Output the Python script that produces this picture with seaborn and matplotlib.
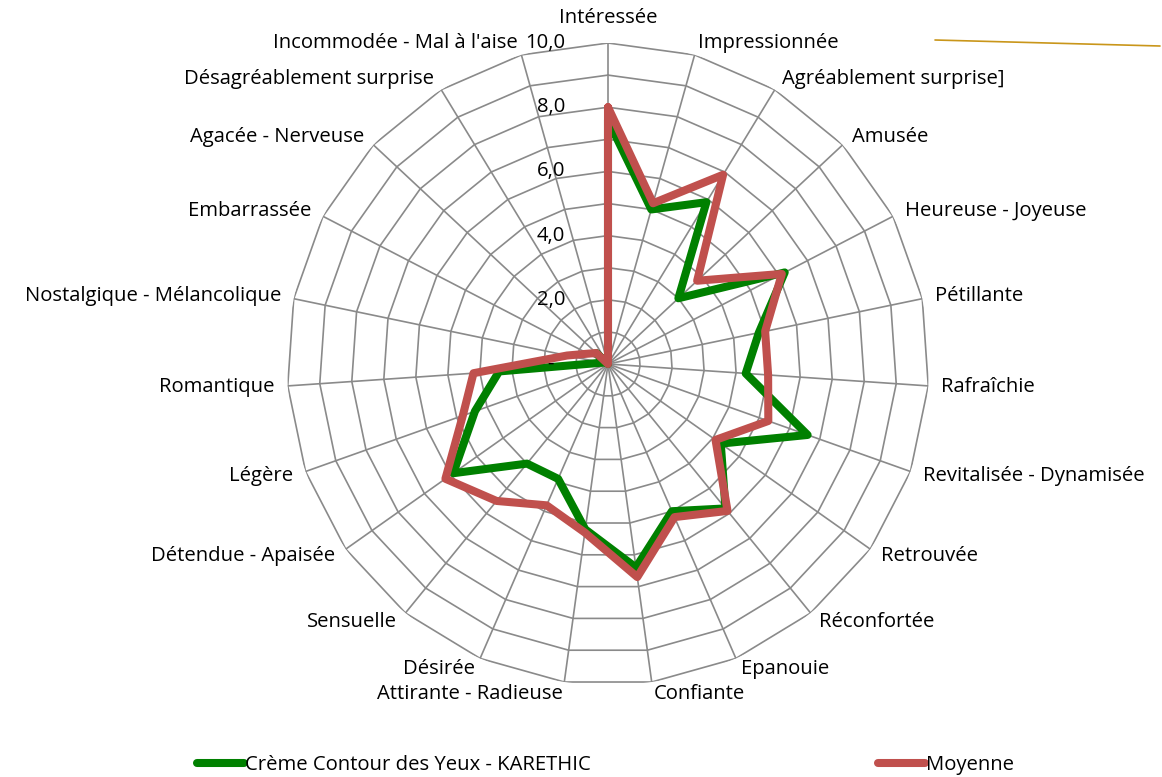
import numpy as np
import matplotlib
matplotlib.use("Agg")
import matplotlib.pyplot as plt
import seaborn as sns
from matplotlib.lines import Line2D

sns.set_style("white")
plt.rcParams['font.family'] = ['Open Sans', 'DejaVu Sans']
plt.rcParams['text.color'] = 'black'

# Data
categories = ["Intéressée", "Impressionnée", "Agréablement surprise]", "Amusée",
              "Heureuse - Joyeuse", "Pétillante", "Rafraîchie", "Revitalisée - Dynamisée",
              "Retrouvée", "Réconfortée", "Epanouie", "Confiante", "Attirante - Radieuse",
              "Désirée", "Sensuelle", "Détendue - Apaisée", "Légère", "Romantique",
              "Nostalgique - Mélancolique", "Embarrassée", "Agacée - Nerveuse",
              "Désagréablement surprise", "Incommodée - Mal à l'aise"]
karethic = [7.6, 5.0, 5.9, 3.0, 6.2, 4.8, 4.3, 6.6, 4.3, 5.8, 5.0, 6.4,
            5.2, 3.9, 4.0, 5.9, 4.4, 3.4, 0.2, 0.1, 0.5, 0.0, 0.0]
moyenne = [8.0, 5.2, 6.9, 3.8, 6.1, 5.0, 5.0, 5.3, 4.1, 5.9, 5.2, 6.7,
           5.3, 4.8, 5.5, 6.2, 4.8, 4.2, 1.3, 0.7, 0.5, 0.0, 0.0]
series_names = ["Crème Contour des Yeux - KARETHIC", "Moyenne"]
ring_values = [1, 2, 3, 4, 5, 6, 7, 8, 9, 10]
tick_values = [0, 2, 4, 6, 8, 10]
tick_labels = ["-  ", "2,0", "4,0", "6,0", "8,0", "10,0"]

green = "#008000"
red = "#C0504D"
grid_color = "#8A8A8A"
fs = 14.6

n = len(categories)
theta = np.linspace(0, 2 * np.pi, n, endpoint=False)
theta_closed = np.append(theta, 2 * np.pi)

fig = plt.figure(figsize=(11.62, 7.77), dpi=100)
cx, cy, rad = 608 / 1162, 1 - 364 / 777, 321
ax = fig.add_axes([cx - rad / 1162, cy - rad / 777, 2 * rad / 1162, 2 * rad / 777],
                  projection="polar")
ax.set_theta_zero_location("N")
ax.set_theta_direction(-1)
ax.set_ylim(0, 10)
ax.grid(False)
ax.set_xticks([])
ax.set_yticks([])
ax.spines["polar"].set_visible(False)
ax.set_facecolor("none")

# polygon grid
for r in ring_values:
    ax.plot(theta_closed, [r] * (n + 1), color=grid_color, lw=1.2, zorder=1)
for t in theta:
    ax.plot([t, t], [0, 10], color=grid_color, lw=1.2, zorder=1)

# series
sns.lineplot(x=theta_closed, y=karethic + karethic[:1], sort=False, estimator=None,
             color=green, lw=5.8, ax=ax, zorder=3)
sns.lineplot(x=theta_closed, y=moyenne + moyenne[:1], sort=False, estimator=None,
             color=red, lw=5.8, ax=ax, zorder=4)
for l in ax.lines[-2:]:
    l.set_solid_joinstyle("round")
    l.set_solid_capstyle("round")

# radial tick labels
for v, lab in zip(tick_values, tick_labels):
    ax.annotate(lab, xy=(0, v), xytext=(-43, 0), textcoords="offset pixels",
                ha="right", va="center", fontsize=fs, color="black")

# category labels
for t, lab in zip(theta, categories):
    s, c = np.sin(t), np.cos(t)
    if abs(s) < 0.05:
        ha, dx, dy = "center", 0, 25
    else:
        ha = "left" if s > 0 else "right"
        dx, dy = 13 * s, 12 * c
    ax.annotate(lab, xy=(t, 10), xytext=(dx, dy), textcoords="offset pixels",
                ha=ha, va="center", fontsize=fs, color="black", annotation_clip=False)

# legend
for name, col, xpos in [(series_names[0], green, 197), (series_names[1], red, 878)]:
    h = Line2D([], [], color=col, lw=5.8, solid_capstyle="round")
    leg = fig.legend([h], [name], loc="center left", bbox_to_anchor=(xpos / 1162, 1 - 765 / 777),
                     frameon=False, fontsize=fs, handlelength=2.3, handletextpad=0.05,
                     borderpad=0, borderaxespad=0)
    for txt in leg.get_texts():
        txt.set_color("black")

# stray line at the top right of the original
fig.add_artist(Line2D([935 / 1162, 1160 / 1162], [1 - 40 / 777, 1 - 46 / 777],
                      color="#C9961A", lw=1.2))

fig.savefig("out.png", dpi=100)
